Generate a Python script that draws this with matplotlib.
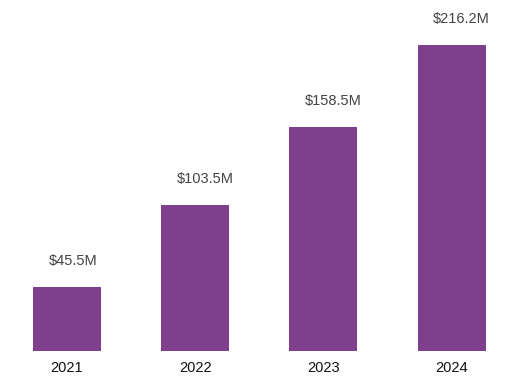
import matplotlib.pyplot as plt

# data
years = ['2021', '2022', '2023', '2024']
revenue = [45.5, 103.5, 158.5, 216.2]  # $M
labels = ['$45.5M', '$103.5M', '$158.5M', '$216.2M']

plt.rcParams['font.family'] = ['Liberation Sans', 'DejaVu Sans']

fig = plt.figure(figsize=(5.15, 3.8), dpi=100)
ax = fig.add_axes([2.8 / 515, 29 / 380, 513 / 515, 351 / 380])

x = list(range(len(years)))
bars = ax.bar(x, revenue, width=0.53, color='#7e3f8c')

# value labels above bars
for xi, v, lab in zip(x, revenue, labels):
    ax.annotate(lab, (xi - 0.145, v), xytext=(0, 15.8), textcoords='offset points',
                ha='left', va='baseline', fontsize=10.5, color='#444444')

ax.set_xticks(x)
ax.set_xticklabels(years, fontsize=10.5, color='#111111')
ax.tick_params(axis='x', length=0, pad=7.5)
ax.set_yticks([])
ax.set_xlim(-0.5, 3.5)
ax.set_ylim(0, 248)
for s in ax.spines.values():
    s.set_visible(False)

fig.savefig('out.png', dpi=100)
